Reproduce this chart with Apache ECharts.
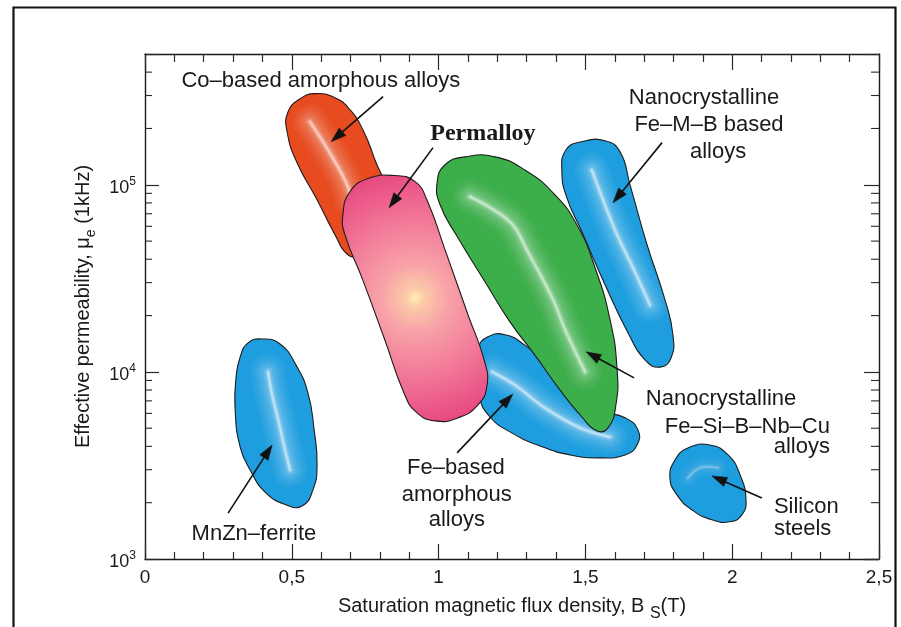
<!DOCTYPE html>
<html>
<head>
<meta charset="utf-8">
<title>Soft magnetic materials: permeability vs saturation flux density</title>
<script src="https://cdn.jsdelivr.net/npm/echarts@6/dist/echarts.min.js"></script>
<style>
  html, body { margin: 0; padding: 0; background: #ffffff; }
  #chart { width: 901px; height: 627px; }
</style>
</head>
<body>
<div id="chart"></div>
<script>
// ---- Axis ticks -------------------------------------------------------
const xTickValues = [0, 0.5, 1, 1.5, 2, 2.5];
const xTickLabels = ['0', '0,5', '1', '1,5', '2', '2,5'];
const yDecades = [1e3, 1e4, 1e5];
const yDecadeExponents = ['3', '4', '5'];
const yMinorTicks = [2e3, 3e3, 4e3, 5e3, 6e3, 7e3, 8e3, 9e3,
                     2e4, 3e4, 4e4, 5e4, 6e4, 7e4, 8e4, 9e4,
                     2e5, 3e5, 4e5];

// ---- Material regions: outline points [Bs (T), mu_e] ------------------
const feAmorphousOutline = [[1.134, 1.34e4], [1.168, 1.54e4], [1.226, 1.58e4], [1.294, 1.39e4],
  [1.373, 1.09e4], [1.454, 8.01e3], [1.550, 6.27e3], [1.635, 5.68e3], [1.679, 4.90e3],
  [1.676, 4.07e3], [1.635, 3.60e3], [1.550, 3.47e3], [1.448, 3.60e3], [1.345, 4.02e3],
  [1.243, 4.78e3], [1.175, 5.74e3], [1.138, 7.35e3], [1.127, 1.03e4]];
const feAmorphousRidge = [[1.182, 1.00e4], [1.260, 8.51e3], [1.362, 6.42e3], [1.482, 5.02e3], [1.584, 4.49e3]];

const nanoFeSiOutline = [[0.995, 1.03e5], [1.022, 1.28e5], [1.090, 1.41e5], [1.192, 1.41e5],
  [1.294, 1.20e5], [1.396, 8.85e4], [1.471, 6.11e4], [1.533, 3.60e4], [1.584, 1.90e4],
  [1.608, 1.03e4], [1.604, 6.66e3], [1.577, 5.02e3], [1.540, 4.83e3], [1.488, 5.74e3],
  [1.413, 8.01e3], [1.328, 1.23e4], [1.243, 1.85e4], [1.158, 3.03e4], [1.066, 5.21e4],
  [1.005, 7.82e4]];
const nanoFeSiRidge = [[1.107, 8.63e4], [1.243, 6.34e4], [1.304, 4.38e4], [1.390, 2.43e4], [1.431, 1.68e4], [1.499, 1.00e4]];

const coAmorphousOutline = [[0.528, 2.88e5], [0.579, 3.07e5], [0.647, 2.92e5], [0.698, 2.52e5],
  [0.742, 1.97e5], [0.783, 1.36e5], [0.817, 9.40e4], [0.794, 6.11e4], [0.732, 4.23e4],
  [0.691, 4.23e4], [0.647, 5.41e4], [0.586, 8.32e4], [0.518, 1.31e5], [0.484, 1.92e5],
  [0.487, 2.45e5]];
const coAmorphousRidge = [[0.562, 2.17e5], [0.623, 1.54e5], [0.681, 1.06e5], [0.705, 8.32e4]];

const permalloyOutline = [[0.674, 6.92e4], [0.698, 9.18e4], [0.760, 1.08e5], [0.851, 1.12e5],
  [0.920, 1.04e5], [0.960, 8.32e4], [1.022, 4.49e4], [1.100, 2.02e4], [1.155, 1.16e4],
  [1.165, 8.51e3], [1.134, 6.66e3], [1.066, 5.68e3], [0.988, 5.47e3], [0.923, 6.11e3],
  [0.882, 7.72e3], [0.817, 1.48e4], [0.739, 3.18e4], [0.681, 5.41e4]];
const permalloyCore = [0.920, 2.49e4];

const nanoFeMBOutline = [[1.420, 1.17e5], [1.434, 1.54e5], [1.488, 1.70e5], [1.567, 1.72e5],
  [1.618, 1.50e5], [1.652, 1.00e5], [1.710, 4.78e4], [1.771, 2.43e4], [1.798, 1.58e4],
  [1.792, 1.19e4], [1.754, 1.06e4], [1.703, 1.16e4], [1.645, 1.62e4], [1.567, 2.92e4],
  [1.488, 5.61e4], [1.437, 8.51e4]];
const nanoFeMBRidge = [[1.522, 1.20e5], [1.560, 8.32e4], [1.608, 5.41e4], [1.662, 3.60e4], [1.720, 2.28e4]];

const mnZnOutline = [[0.324, 1.20e4], [0.351, 1.43e4], [0.398, 1.50e4], [0.460, 1.41e4],
  [0.514, 1.09e4], [0.555, 7.72e3], [0.576, 4.90e3], [0.586, 3.18e3], [0.572, 2.34e3],
  [0.535, 1.92e3], [0.480, 1.95e3], [0.409, 2.28e3], [0.358, 2.99e3], [0.324, 3.97e3],
  [0.307, 6.27e3], [0.310, 9.29e3]];
const mnZnRidge = [[0.419, 1.00e4], [0.433, 7.53e3], [0.450, 5.89e3], [0.473, 4.07e3], [0.494, 2.99e3]];

const siliconOutline = [[1.788, 2.71e3], [1.805, 3.38e3], [1.849, 3.92e3], [1.924, 4.07e3],
  [1.986, 3.60e3], [2.027, 2.81e3], [2.047, 2.07e3], [2.033, 1.72e3], [1.992, 1.58e3],
  [1.931, 1.62e3], [1.863, 1.83e3], [1.812, 2.20e3]];
const siliconRidge = [[1.849, 2.71e3], [1.890, 3.07e3], [1.952, 3.07e3]];

// drawing order: back to front
const regionOutlines = [feAmorphousOutline, nanoFeSiOutline, coAmorphousOutline, permalloyOutline,
                        nanoFeMBOutline, mnZnOutline, siliconOutline];
const regionRidges = [feAmorphousRidge, nanoFeSiRidge, coAmorphousRidge, null,
                      nanoFeMBRidge, mnZnRidge, siliconRidge];

// ---- Callout arrows: tail -> head [Bs, mu_e] ---------------------------
const arrowTails = [[0.811, 2.96e5], [0.981, 1.58e5], [1.761, 1.68e5], [1.666, 9.29e3],
                    [1.063, 3.69e3], [0.283, 1.76e3], [2.101, 2.12e3]];
const arrowHeads = [[0.634, 1.70e5], [0.831, 7.53e4], [1.594, 8.01e4], [1.502, 1.28e4],
                    [1.253, 7.62e3], [0.433, 4.07e3], [1.931, 2.78e3]];

// ---- Callout texts, one entry per line --------------------------------
const noteTexts = ['Co–based amorphous alloys', 'Permalloy',
  'Nanocrystalline', 'Fe–M–B based', 'alloys',
  'Nanocrystalline', 'Fe–Si–B–Nb–Cu', 'alloys',
  'Fe–based', 'amorphous', 'alloys',
  'MnZn–ferrite', 'Silicon', 'steels'];
const noteAnchors = [[0.599, 3.60e5], [1.151, 1.87e5],
  [1.904, 2.92e5], [1.921, 2.09e5], [1.952, 1.50e5],
  [1.962, 7.17e3], [2.333, 5.08e3], [2.333, 3.97e3],
  [1.059, 3.05e3], [1.062, 2.20e3], [1.062, 1.62e3],
  [0.371, 1.36e3], [2.142, 1.90e3], [2.142, 1.45e3]];

// ---- Styles -------------------------------------------------------------
const SANS = "'Liberation Sans', Arial, Helvetica, sans-serif";
const SERIF = "'Liberation Serif', 'Times New Roman', serif";
const INK = '#1a1a1a';
const BLUE = '#1E9EDF';
const regionFills = [BLUE, '#3CAE4A', '#E84B1F', 'permalloy', BLUE, BLUE, BLUE];
const noteAlign = ['center', 'center', 'center', 'center', 'center', 'center', 'right', 'right',
                   'center', 'center', 'center', 'center', 'left', 'left'];
// soft highlight along each ridge: stacked strokes [line width, white opacity]
const glowLayers = [[36, 0.03], [31, 0.035], [26, 0.04], [22, 0.045], [18, 0.05],
                    [14, 0.06], [10, 0.08], [7, 0.11], [4.5, 0.18], [2.5, 0.42]];

function renderRegion(params, api) {
  const i = params.dataIndex;
  const pts = regionOutlines[i].map(p => api.coord(p));
  let fill = regionFills[i];
  if (fill === 'permalloy') {
    const c = api.coord(permalloyCore);
    fill = new echarts.graphic.RadialGradient(c[0], c[1], 135, [
      { offset: 0, color: '#FFF0B0' },
      { offset: 0.07, color: '#FCCAA8' },
      { offset: 0.25, color: '#F8A2A8' },
      { offset: 0.55, color: '#F27C99' },
      { offset: 0.8, color: '#EC5B8A' },
      { offset: 1, color: '#E4437C' }
    ], true);
  }
  const children = [{
    type: 'polygon',
    shape: { points: pts, smooth: 0.5 },
    style: { fill: fill, stroke: '#1c1c1c', lineWidth: 1.1 }
  }];
  const ridge = regionRidges[i];
  if (ridge) {
    const rp = ridge.map(p => api.coord(p));
    const soft = i === 6 ? 0.45 : 1;
    const narrow = i === 6 ? 0.6 : 1;
    glowLayers.forEach(g => {
      children.push({
        type: 'polyline',
        shape: { points: rp, smooth: 0.4 },
        style: { fill: null, stroke: 'rgba(255,255,255,' + (g[1] * soft) + ')',
                 lineWidth: Math.max(2, g[0] * narrow), lineCap: 'round', lineJoin: 'round' },
        silent: true
      });
    });
  }
  return { type: 'group', children: children };
}

function renderArrow(params, api) {
  const i = params.dataIndex;
  const t = api.coord(arrowTails[i]);
  const h = api.coord(arrowHeads[i]);
  const dx = h[0] - t[0], dy = h[1] - t[1];
  const len = Math.hypot(dx, dy);
  const ux = dx / len, uy = dy / len;
  const headLen = 15, headHalf = 5;
  const bx = h[0] - ux * headLen, by = h[1] - uy * headLen;
  return {
    type: 'group',
    children: [
      { type: 'line', shape: { x1: t[0], y1: t[1], x2: bx + ux * 2, y2: by + uy * 2 },
        style: { stroke: '#111', lineWidth: 1.6 } },
      { type: 'polygon',
        shape: { points: [h, [bx - uy * headHalf, by + ux * headHalf], [bx + uy * headHalf, by - ux * headHalf]] },
        style: { fill: '#111', stroke: '#111', lineWidth: 0.5 } }
    ]
  };
}

function renderNote(params, api) {
  const i = params.dataIndex;
  const p = api.coord(noteAnchors[i]);
  const serif = noteTexts[i] === 'Permalloy';
  return {
    type: 'text',
    style: {
      text: noteTexts[i], x: p[0], y: p[1],
      fill: INK,
      fontFamily: serif ? SERIF : SANS,
      fontSize: serif ? 24 : 22,
      fontWeight: serif ? 'bold' : 'normal',
      align: noteAlign[i], verticalAlign: 'middle'
    }
  };
}

function renderMinorTick(params, api) {
  const cs = params.coordSys;
  const p = api.coord([0, api.value(1)]);
  const left = cs.x, right = cs.x + cs.width;
  const st = { stroke: '#2a2a2a', lineWidth: 1.1 };
  return {
    type: 'group',
    children: [
      { type: 'line', shape: { x1: left, y1: p[1], x2: left + 7, y2: p[1] }, style: st },
      { type: 'line', shape: { x1: right - 8, y1: p[1], x2: right, y2: p[1] }, style: st }
    ]
  };
}

function xLabel(v) {
  const k = xTickValues.findIndex(t => Math.abs(t - v) < 1e-9);
  return k >= 0 ? xTickLabels[k] : '';
}
function yLabel(v) {
  const k = yDecades.findIndex(d => Math.abs(v / d - 1) < 1e-6);
  return k >= 0 ? '{b|10}{s|' + yDecadeExponents[k] + '}' : '';
}

const axisLineStyle = { show: true, onZero: false, lineStyle: { color: INK, width: 1.4 } };
const tickStyle = { color: '#2a2a2a', width: 1.2 };

const option = {
  animation: false,
  backgroundColor: '#ffffff',
  grid: { left: 145, right: 22, top: 54, bottom: 68, containLabel: false, outerBoundsMode: 'none' },
  graphic: [{
    type: 'rect', left: 11, top: 5, silent: true,
    shape: { width: 882, height: 650 },
    style: { fill: null, stroke: '#111', lineWidth: 2.2 }
  }],
  xAxis: [{
    type: 'value', position: 'bottom', min: 0, max: 2.5, interval: 0.5,
    axisLine: axisLineStyle,
    axisTick: { show: true, inside: true, length: 15, lineStyle: tickStyle },
    minorTick: { show: true, splitNumber: 5, length: 7, lineStyle: tickStyle },
    splitLine: { show: false }, minorSplitLine: { show: false },
    axisLabel: { show: true, margin: 9, fontSize: 19, fontFamily: SANS, color: INK,
                 formatter: xLabel, showMinLabel: true, showMaxLabel: true },
    name: 'Saturation magnetic flux density, B {s|S}(T)',
    nameLocation: 'middle', nameGap: 26,
    nameTextStyle: { fontSize: 20, fontFamily: SANS, color: INK, lineHeight: 30,
      rich: { s: { fontSize: 16, fontFamily: SANS, color: INK, lineHeight: 12, verticalAlign: 'bottom' } } }
  }, {
    type: 'value', position: 'top', min: 0, max: 2.5, interval: 0.5,
    axisLine: axisLineStyle,
    axisTick: { show: true, inside: true, length: 16, lineStyle: tickStyle },
    minorTick: { show: true, splitNumber: 5, length: 8, lineStyle: tickStyle },
    splitLine: { show: false }, minorSplitLine: { show: false },
    axisLabel: { show: false }
  }],
  yAxis: [{
    type: 'log', logBase: 10, position: 'left', min: 1000, max: 500000,
    axisLine: axisLineStyle,
    axisTick: { show: true, inside: true, length: 14, lineStyle: tickStyle },
    splitLine: { show: false },
    axisLabel: { show: true, margin: 9, formatter: yLabel, showMinLabel: true, showMaxLabel: true,
      rich: {
        b: { fontSize: 18, fontFamily: SANS, color: INK, lineHeight: 18, padding: [6, 0, 0, 0] },
        s: { fontSize: 12, fontFamily: SANS, color: INK, lineHeight: 12, verticalAlign: 'top' }
      } },
    name: 'Effective permeability, μ{s|e} (1kHz)',
    nameLocation: 'middle', nameRotate: 90, nameGap: 43,
    nameTextStyle: { fontSize: 20, fontFamily: SANS, color: INK, lineHeight: 30,
      rich: { s: { fontSize: 14, fontFamily: SANS, color: INK, lineHeight: 12, verticalAlign: 'bottom' } } }
  }, {
    type: 'log', logBase: 10, position: 'right', min: 1000, max: 500000,
    axisLine: axisLineStyle,
    axisTick: { show: true, inside: true, length: 15, lineStyle: tickStyle },
    splitLine: { show: false },
    axisLabel: { show: false }
  }],
  series: [{
    type: 'custom', name: 'regions', xAxisIndex: 0, yAxisIndex: 0,
    renderItem: renderRegion,
    data: regionOutlines.map(o => o[0]),
    encode: { x: 0, y: 1 }, z: 2, silent: true
  }, {
    type: 'custom', name: 'arrows', xAxisIndex: 0, yAxisIndex: 0,
    renderItem: renderArrow,
    data: arrowTails, encode: { x: 0, y: 1 }, z: 4, silent: true
  }, {
    type: 'custom', name: 'notes', xAxisIndex: 0, yAxisIndex: 0,
    renderItem: renderNote,
    data: noteAnchors, encode: { x: 0, y: 1 }, z: 5, silent: true
  }, {
    type: 'custom', name: 'minorTicks', xAxisIndex: 0, yAxisIndex: 0,
    renderItem: renderMinorTick,
    data: yMinorTicks.map(v => [0, v]), encode: { x: 0, y: 1 }, z: 6, silent: true
  }]
};

const chart = echarts.init(document.getElementById('chart'), null, { renderer: 'canvas' });
chart.setOption(option);
</script>
</body>
</html>
